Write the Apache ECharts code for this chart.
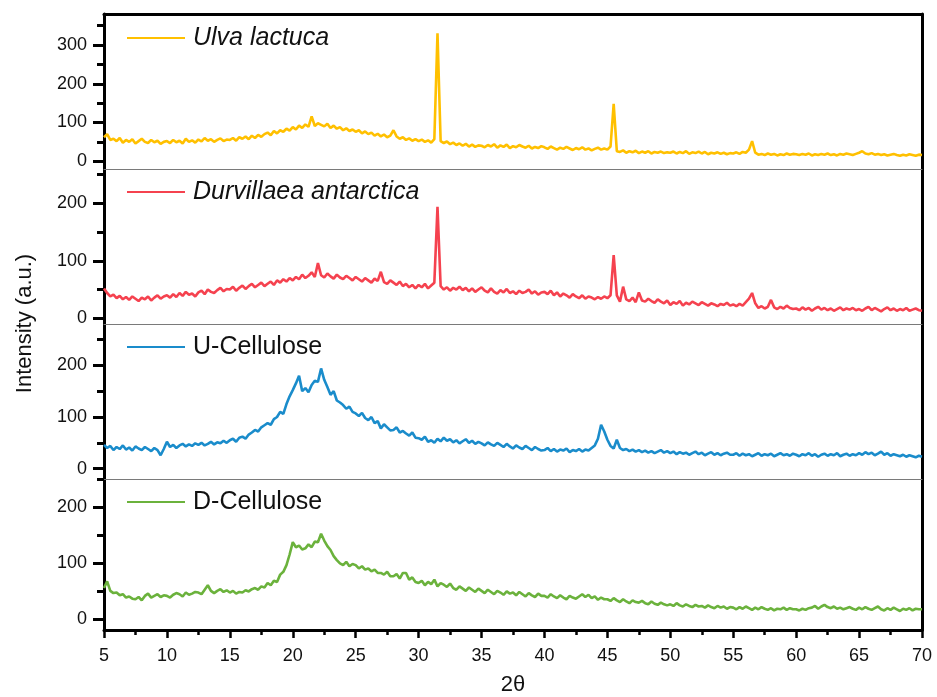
<!DOCTYPE html>
<html>
<head>
<meta charset="utf-8">
<script src="https://cdn.jsdelivr.net/npm/echarts@6/dist/echarts.min.js"></script>
<style>html,body{margin:0;padding:0;background:#fff}#chart{width:937px;height:697px}</style>
</head>
<body>
<div id="chart"></div>
<script>
// 2θ grid of the traces
const startAngle = 5;
const angleStep = 0.25;
const xTicks = [5, 10, 15, 20, 25, 30, 35, 40, 45, 50, 55, 60, 65, 70];

const seriesNames = ['Ulva lactuca', 'Durvillaea antarctica', 'U-Cellulose', 'D-Cellulose'];

const ulvaLactuca = [
  62,70,55,58,52,60,48,55,50,57,46,52,58,50,47,55,49,53,45,50,
  52,47,55,49,53,46,58,50,54,48,56,51,60,53,57,50,55,59,52,56,
  55,60,53,62,58,64,57,66,60,68,63,70,74,67,78,72,80,76,84,79,
  88,82,92,86,95,89,116,91,98,94,90,97,86,92,84,88,80,85,78,82,
  76,80,72,77,70,74,66,71,64,69,62,66,80,64,58,62,55,59,53,57,
  52,56,50,54,48,57,330,52,47,51,44,48,42,46,40,45,38,43,37,41,
  40,36,42,38,44,35,41,37,43,34,39,36,42,38,35,40,33,37,34,39,
  36,32,38,34,30,35,32,37,33,29,34,31,36,30,33,28,32,35,30,33,
  30,38,148,26,24,28,22,26,23,27,21,25,22,26,20,24,22,25,21,23,
  22,25,20,24,21,26,19,23,21,25,20,24,18,22,20,23,19,22,18,21,
  20,23,19,24,22,30,52,22,17,19,16,20,17,19,15,18,16,20,17,19,
  18,16,19,17,20,15,18,16,19,17,20,16,18,15,19,17,20,18,16,19,
  22,26,20,18,21,17,19,16,18,15,17,19,16,14,17,15,18,16,14,17,
  16
];

const durvillaeaAntarctica = [
  52,44,38,41,35,39,33,37,32,38,34,30,36,33,38,31,36,40,34,38,
  40,36,42,37,44,39,46,41,43,38,45,48,42,50,46,44,49,53,47,51,
  50,55,48,53,57,51,56,60,54,58,62,56,60,64,58,66,62,68,64,70,
  66,72,68,76,70,74,80,72,96,75,71,78,73,69,76,71,68,74,70,66,
  72,68,64,70,66,62,69,65,81,63,60,66,62,58,64,56,60,54,58,52,
  58,54,60,52,57,62,194,56,50,54,48,53,50,55,49,53,47,52,46,50,
  54,48,45,52,46,43,49,45,51,44,47,42,48,44,46,50,43,47,41,45,
  46,42,48,40,45,38,43,40,36,42,38,35,40,34,38,36,33,37,34,38,
  35,40,110,40,29,55,33,30,36,28,45,31,29,34,30,27,33,29,26,31,
  23,28,25,30,22,27,24,29,26,23,28,25,22,26,24,21,25,23,27,22,
  24,21,25,22,28,34,44,26,18,21,17,20,32,19,16,20,17,22,18,16,
  17,14,19,15,18,13,17,20,15,18,14,17,13,16,19,14,17,15,18,14,
  16,13,17,20,14,18,15,12,16,19,14,17,13,16,14,18,13,15,17,14,
  13
];

const uCellulose = [
  46,40,44,36,42,38,45,37,41,35,43,39,36,42,38,34,40,36,26,38,
  52,42,46,40,45,48,43,47,44,49,46,50,45,48,52,47,51,49,54,50,
  55,58,52,60,62,58,66,70,75,72,80,84,88,85,96,100,110,106,125,140,
  152,165,180,150,156,148,162,170,168,194,172,158,143,150,132,128,123,116,120,110,
  107,102,108,98,94,100,88,92,78,86,80,74,75,80,70,73,68,64,70,60,
  59,56,62,52,55,50,58,53,60,54,57,51,55,49,53,57,50,54,48,52,
  49,45,51,47,44,50,46,42,48,43,39,45,41,38,44,40,36,42,38,35,
  36,40,34,38,33,37,35,39,32,36,34,38,33,37,35,40,45,58,85,72,
  56,44,39,56,40,36,38,34,37,33,36,32,35,31,34,30,33,36,31,34,
  30,33,28,32,29,31,27,30,33,28,31,26,29,32,27,30,26,29,31,27,
  27,30,25,29,26,28,24,27,30,25,28,26,29,24,27,30,26,28,25,29,
  27,24,28,26,30,25,28,23,27,29,25,28,26,30,24,27,29,25,28,26,
  30,27,32,28,31,26,29,33,27,30,25,28,26,24,27,23,26,24,22,25,
  23
];

const dCellulose = [
  55,67,50,46,47,42,44,38,40,36,35,39,33,41,45,38,41,44,39,42,
  41,38,43,46,44,40,47,43,45,48,47,44,52,60,50,46,50,53,48,51,
  47,50,45,48,47,51,49,53,55,52,58,56,64,60,68,66,79,84,96,115,
  137,128,131,124,126,133,128,138,137,152,140,130,123,112,105,99,96,102,94,98,
  96,90,94,88,90,85,88,82,82,79,84,76,76,80,72,82,82,70,74,66,
  64,68,60,66,62,70,58,64,61,57,63,55,52,58,54,50,56,52,48,54,
  50,46,52,48,44,50,47,43,49,45,47,42,48,44,40,46,42,39,45,41,
  41,38,44,40,37,42,38,35,41,38,36,40,44,39,43,37,40,34,38,35,
  35,32,37,33,30,35,31,28,33,30,29,32,28,26,31,27,25,29,26,24,
  26,23,28,24,22,26,23,21,25,22,23,20,24,21,19,23,20,22,18,21,
  20,17,21,18,22,19,16,20,17,21,18,16,19,15,18,17,20,16,19,17,
  17,15,18,16,19,20,23,18,22,25,21,19,22,18,20,17,19,21,18,16,
  20,17,21,18,16,19,22,17,15,19,16,20,17,14,18,16,19,15,18,17,
  17
];

// y-axis tick labels per panel
const yMajorTicks = [[0, 100, 200, 300], [0, 100, 200], [0, 100, 200], [0, 100, 200]];
const yMinorTicks = [[50, 150, 250, 350], [50, 150, 250], [50, 150, 250], [50, 150, 250]];
const yRanges = [[-20, 380], [-10, 260], [-20, 280], [-20, 250]];

const seriesValues = [ulvaLactuca, durvillaeaAntarctica, uCellulose, dCellulose];
const colors = ['#FFC000', '#F5424F', '#1A8CCB', '#6BB23C'];

function toPairs(vals) {
  return vals.map((v, i) => [startAngle + i * angleStep, v]);
}

const FONT = "'Liberation Sans', Arial, sans-serif";
const gridTops = [14, 169, 324, 479];
const gridHeights = [155, 155, 155, 154];

const grids = [], xAxes = [], yAxes = [], series = [], legends = [];
const legendTops = [25, 179, 334, 489];

for (let i = 0; i < 4; i++) {
  grids.push({ left: 104, right: 15, top: gridTops[i], height: gridHeights[i] });
  const last = i === 3;
  xAxes.push({
    type: 'value', gridIndex: i, min: 5, max: 70, interval: 5, position: 'bottom',
    axisLine: { show: true, onZero: false, lineStyle: last ? { color: '#000', width: 3 } : { color: '#7a7a7a', width: 1 } },
    axisTick: { show: last, length: 8, lineStyle: { color: '#000', width: 2.5 } },
    minorTick: { show: last, splitNumber: 2, length: 5, lineStyle: { color: '#000', width: 2.5 } },
    axisLabel: {
      show: last, margin: 17, fontSize: 18, color: '#111', fontFamily: FONT,
      customValues: xTicks
    },
    splitLine: { show: false },
    name: last ? '2θ' : '', nameLocation: 'middle', nameGap: 44,
    nameTextStyle: { fontSize: 22, color: '#111', fontFamily: FONT }
  });
  // main left y axis
  yAxes.push({
    type: 'value', gridIndex: i, min: yRanges[i][0], max: yRanges[i][1], position: 'left',
    axisLine: { show: true, onZero: false, lineStyle: { color: '#000', width: 3 } },
    axisTick: { show: true, length: 11, customValues: yMajorTicks[i], lineStyle: { color: '#000', width: 3 } },
    axisLabel: { show: true, margin: 17, fontSize: 18, color: '#111', fontFamily: FONT, customValues: yMajorTicks[i] },
    splitLine: { show: false }
  });
  // minor ticks on left
  yAxes.push({
    type: 'value', gridIndex: i, min: yRanges[i][0], max: yRanges[i][1], position: 'left',
    axisLine: { show: false, onZero: false },
    axisTick: { show: true, length: 7, customValues: yMinorTicks[i], lineStyle: { color: '#000', width: 3 } },
    axisLabel: { show: false },
    splitLine: { show: false }
  });
  // right frame line
  yAxes.push({
    type: 'value', gridIndex: i, min: yRanges[i][0], max: yRanges[i][1], position: 'right',
    axisLine: { show: true, onZero: false, lineStyle: { color: '#000', width: 3 } },
    axisTick: { show: false }, axisLabel: { show: false }, splitLine: { show: false }
  });
  series.push({
    name: seriesNames[i], type: 'line', xAxisIndex: i, yAxisIndex: i * 3,
    data: toPairs(seriesValues[i]), showSymbol: false, symbol: 'none',
    lineStyle: { color: colors[i], width: 2.6 }, itemStyle: { color: colors[i] },
    animation: false
  });
  legends.push({
    data: [seriesNames[i]], left: 127, top: legendTops[i], padding: 0,
    icon: 'rect', itemWidth: 58, itemHeight: 2,
    textStyle: {
      fontSize: 25, lineHeight: 26, color: '#111', fontFamily: FONT,
      fontStyle: i < 2 ? 'italic' : 'normal', padding: [0, 0, 0, 3]
    },
    selectedMode: false
  });
}

// top frame line
xAxes.push({
  type: 'value', gridIndex: 0, min: 5, max: 70, position: 'top',
  axisLine: { show: true, onZero: false, lineStyle: { color: '#000', width: 3 } },
  axisTick: { show: false }, axisLabel: { show: false }, splitLine: { show: false }
});

// overall grid for the shared y-axis title
grids.push({ left: 104, right: 15, top: 14, height: 619 });
xAxes.push({ type: 'value', gridIndex: 4, min: 0, max: 1, show: false });
yAxes.push({
  type: 'value', gridIndex: 4, min: 0, max: 1, position: 'left',
  axisLine: { show: false }, axisTick: { show: false }, axisLabel: { show: false }, splitLine: { show: false },
  name: 'Intensity (a.u.)', nameLocation: 'middle', nameGap: 68,
  nameTextStyle: { fontSize: 22, color: '#111', fontFamily: FONT }
});

const chart = echarts.init(document.getElementById('chart'), null, { renderer: 'canvas' });
chart.setOption({
  animation: false,
  backgroundColor: '#fff',
  grid: grids,
  xAxis: xAxes,
  yAxis: yAxes,
  legend: legends,
  series: series
});
</script>
</body>
</html>
